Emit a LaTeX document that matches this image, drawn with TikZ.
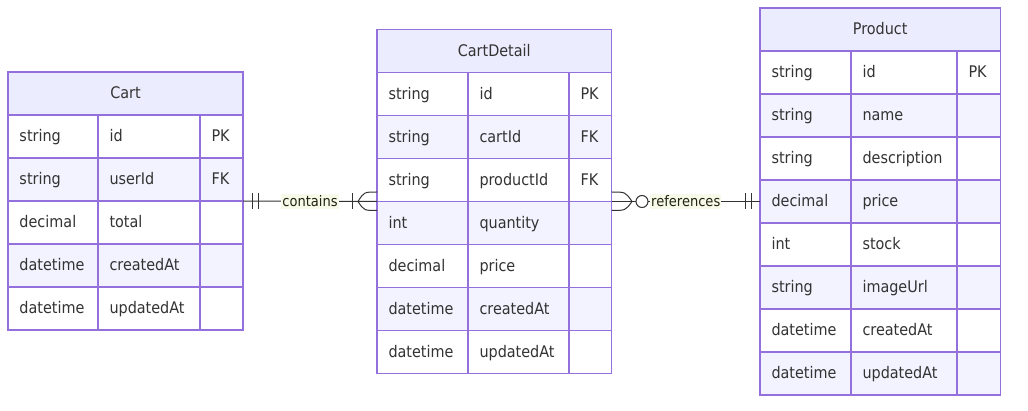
\documentclass[tikz,border=0pt]{standalone}
\usepackage{fontspec}
\setmainfont{DejaVu Sans Condensed}
\definecolor{erborder}{HTML}{9370DB}
\definecolor{erhead}{HTML}{ECECFF}
\definecolor{eralt}{HTML}{F3F3FF}
\definecolor{ertext}{HTML}{333333}
\definecolor{erline}{HTML}{333333}
\definecolor{erlabelbg}{HTML}{F7F9E9}
\definecolor{erlabeltx}{HTML}{222211}
\tikzset{
  cellbox/.style={draw=erborder, line width=1.4pt, inner ysep=0pt, inner xsep=11.5pt, outer sep=0pt,
    anchor=north west, text=ertext, minimum height=43pt, text height=14pt, text depth=3pt,
    align=left, font=\fontsize{16}{18}\selectfont},
  hdrbox/.style={draw=erborder, line width=1.4pt, fill=erhead, inner sep=0pt, outer sep=0pt,
    anchor=north west, text=ertext, minimum height=43pt, text height=14pt, text depth=3pt,
    font=\fontsize{16}{18}\selectfont},
  entbox/.style={inner sep=0pt, outer sep=0pt, draw=none},
  relline/.style={draw=erline, line width=1pt},
  rellabel/.style={fill=erlabelbg, text=erlabeltx, inner xsep=1pt, inner ysep=2pt,
    font=\fontsize{14.5}{16}\selectfont}
}
% #1 id, #2 x0, #3 x1, #4 x2, #5 x3, #6 ytop, #7 title, #8 rows
\newcommand\erentity[8]{%
  \pgfmathsetmacro\erwa{#3-#2-23}%
  \pgfmathsetmacro\erwb{#4-#3-23}%
  \pgfmathsetmacro\erwc{#5-#4-23}%
  \pgfmathsetmacro\erwh{#5-#2}%
  \node[hdrbox, minimum width=\erwh pt] (#1-h) at (#2,#6) {#7};
  \foreach \ty/\nm/\ky [count=\i] in {#8} {
    \pgfmathsetmacro\yy{#6+43*\i}
    \pgfmathtruncatemacro\odd{mod(\i,2)}
    \ifnum\odd=1 \def\rowfill{white}\else\def\rowfill{eralt}\fi
    \node[cellbox, fill=\rowfill, text width=\erwa pt] (#1-\i-t) at (#2,\yy) {\ty};
    \node[cellbox, fill=\rowfill, text width=\erwb pt] (#1-\i-n) at (#3,\yy) {\nm};
    \node[cellbox, fill=\rowfill, text width=\erwc pt] (#1-\i-k) at (#4,\yy) {\ky};
  }
}
\begin{document}
\begin{tikzpicture}[x=1pt,y=-1pt]
\useasboundingbox (0,0) rectangle (1028,411);
\fill[white] (0,0) rectangle (1028,411);

% invisible entity frames for connectors
\node[entbox, minimum width=235pt, minimum height=258pt] (cart) at (125.5,201) {};
\node[entbox, minimum width=234.5pt, minimum height=344pt] (cdetail) at (494.25,201.5) {};
\node[entbox, minimum width=240.5pt, minimum height=387pt] (product) at (880.25,201.5) {};

\erentity{ca}{8}{98}{200}{243}{72}{Cart}{
  string/id/PK, string/userId/FK, decimal/total/{}, datetime/createdAt/{}, datetime/updatedAt/{}}
\erentity{cd}{377}{468}{569}{611.5}{29.5}{CartDetail}{
  string/id/PK, string/cartId/FK, string/productId/FK, int/quantity/{}, decimal/price/{},
  datetime/createdAt/{}, datetime/updatedAt/{}}
\erentity{pr}{760}{851}{957}{1000.5}{8}{Product}{
  string/id/PK, string/name/{}, string/description/{}, decimal/price/{}, int/stock/{},
  string/imageUrl/{}, datetime/createdAt/{}, datetime/updatedAt/{}}

% Cart ||--|{ CartDetail : contains
\draw[relline] (cart.east) -- node[rellabel] {contains} (cdetail.west);
\draw[relline] ([xshift=9pt,yshift=8pt]cart.east) -- ([xshift=9pt,yshift=-8pt]cart.east);
\draw[relline] ([xshift=15pt,yshift=8pt]cart.east) -- ([xshift=15pt,yshift=-8pt]cart.east);
\draw[relline] ([xshift=-24.5pt,yshift=8pt]cdetail.west) -- ([xshift=-24.5pt,yshift=-8pt]cdetail.west);
\draw[relline] ([yshift=9.5pt]cdetail.west) .. controls ([xshift=-13pt,yshift=9.5pt]cdetail.west) .. ([xshift=-19pt]cdetail.west)
  .. controls ([xshift=-13pt,yshift=-9pt]cdetail.west) .. ([yshift=-9pt]cdetail.west);

% CartDetail }o--|| Product : references
\draw[relline] (cdetail.east) -- node[rellabel] {references} (product.west);
\draw[relline] ([yshift=9.5pt]cdetail.east) .. controls ([xshift=14pt,yshift=9.5pt]cdetail.east) .. ([xshift=20.5pt]cdetail.east)
  .. controls ([xshift=14pt,yshift=-9pt]cdetail.east) .. ([yshift=-9pt]cdetail.east);
\coordinate (zc) at ([xshift=30.5pt]cdetail.east);
\draw[relline, fill=white] (zc) circle[radius=6pt];
\draw[relline] ([xshift=-15pt,yshift=8pt]product.west) -- ([xshift=-15pt,yshift=-8pt]product.west);
\draw[relline] ([xshift=-9pt,yshift=8pt]product.west) -- ([xshift=-9pt,yshift=-8pt]product.west);
\end{tikzpicture}
\end{document}
